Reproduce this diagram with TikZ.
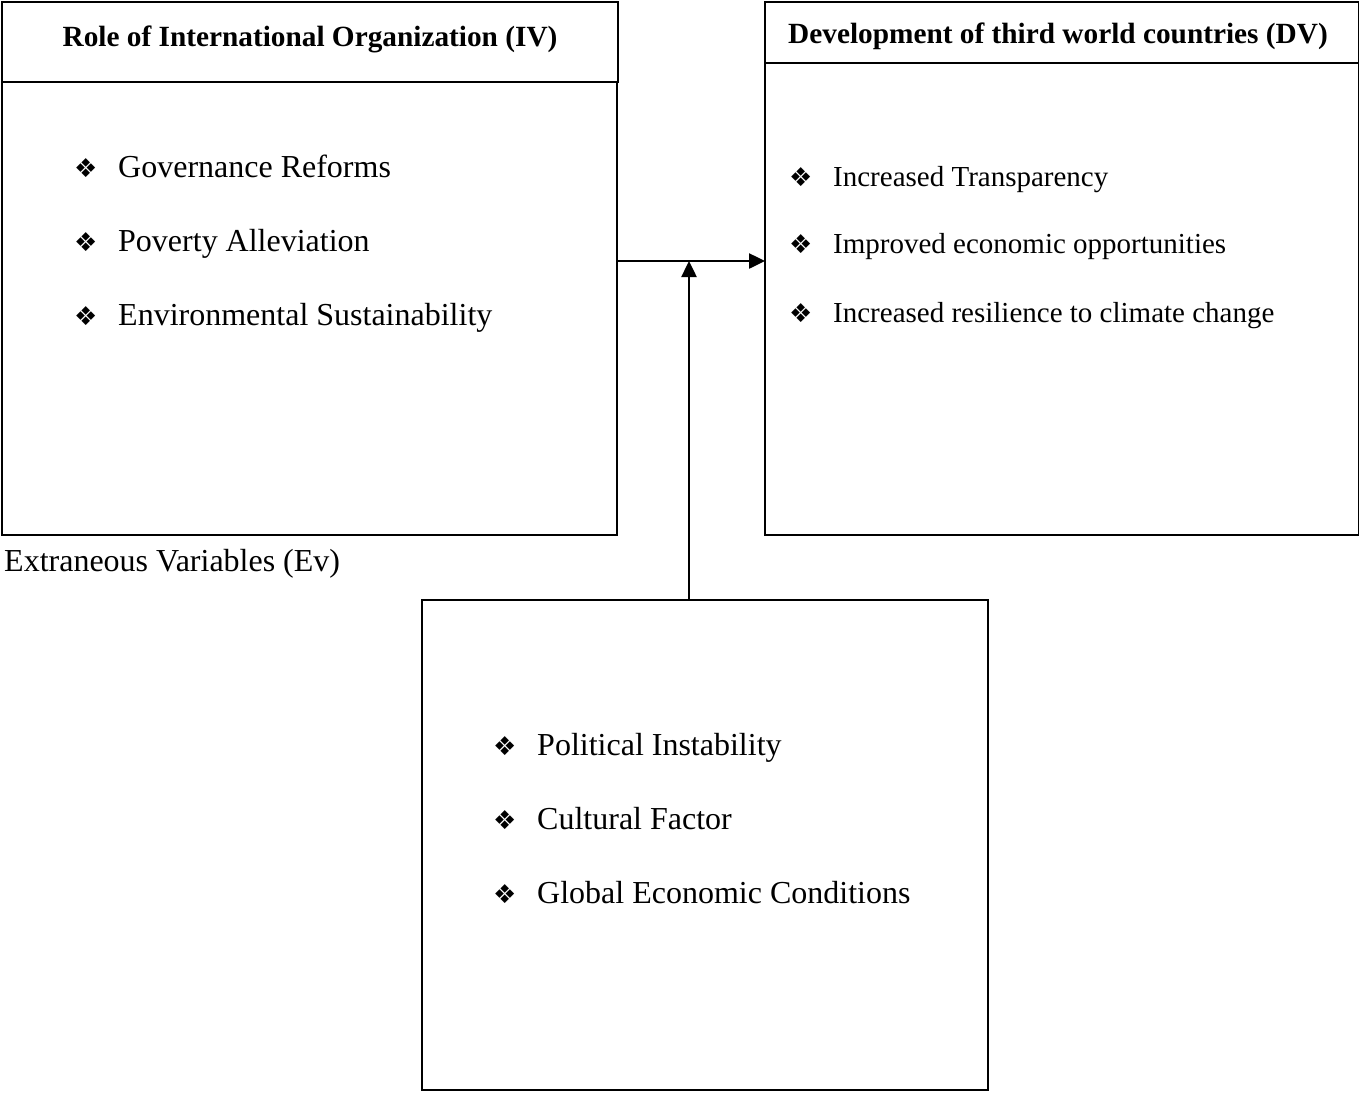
\documentclass[tikz,border=0pt]{standalone}
\usepackage{fontspec}
\setmainfont{Liberation Serif}
\newfontfamily\symfont{DejaVu Sans}
\usetikzlibrary{arrows.meta}

\tikzset{
  varbox/.style={draw, line width=2.5pt, anchor=north west, inner sep=0pt, outer sep=0pt},
  headtxt/.style={font=\fontsize{29.3}{34}\selectfont\bfseries, anchor=base, inner sep=0pt},
  itemtxt/.style={font=\fontsize{32}{38}\selectfont, anchor=base west, inner sep=0pt},
  dvitemtxt/.style={font=\fontsize{29}{34}\selectfont, anchor=base west, inner sep=0pt},
  arr/.style={line width=2.5pt, -{Triangle[length=16pt,width=15pt]}}
}
\newcommand{\bulmark}{\makebox[44pt][l]{\symfont\fontsize{26}{26}\selectfont ❖}}

\begin{document}
\begin{tikzpicture}[x=1pt,y=-1pt]
\useasboundingbox (0,0) rectangle (1359,1093);

% Text Node
\node [varbox, minimum width=616pt, minimum height=80pt] (ivhead) at (2,2) {};
\node [headtxt] (ivtitle) at (310,46) {Role of International Organization (IV)};
% Text Node
\node [varbox, minimum width=615pt, minimum height=453pt] (ivbody) at (2,82) {};
\node [itemtxt] (ivgov) at (74,177) {\bulmark Governance Reforms};
\node [itemtxt] (ivpov) at (74,251) {\bulmark Poverty Alleviation};
\node [itemtxt] (ivenv) at (74,325) {\bulmark Environmental Sustainability};

% Text Node
\node [varbox, minimum width=594pt, minimum height=61pt] (dvhead) at (765,2) {};
\node [headtxt] (dvtitle) at (1058,43) {Development of third world countries (DV)};
% Text Node
\node [varbox, minimum width=594pt, minimum height=472pt] (dvbody) at (765,63) {};
\node [dvitemtxt] (dvtra) at (789,186) {\bulmark Increased Transparency};
\node [dvitemtxt] (dveco) at (789,253) {\bulmark Improved economic opportunities};
\node [dvitemtxt] (dvres) at (789,322) {\bulmark Increased resilience to climate change};

% Text Node
\node [itemtxt] (evlabel) at (4,571) {Extraneous Variables (Ev)};
\node [varbox, minimum width=566pt, minimum height=490pt] (evbox) at (422,600) {};
\node [itemtxt] (evpol) at (493,755) {\bulmark Political Instability};
\node [itemtxt] (evcul) at (493,829) {\bulmark Cultural Factor};
\node [itemtxt] (evglo) at (493,903) {\bulmark Global Economic Conditions};

% Connection
\coordinate (join) at (689,261);
\draw [arr] (ivbody.east |- join) -- (dvbody.west |- join);
% Connection
\draw [arr] (evbox.north -| join) -- (join);

\end{tikzpicture}
\end{document}
